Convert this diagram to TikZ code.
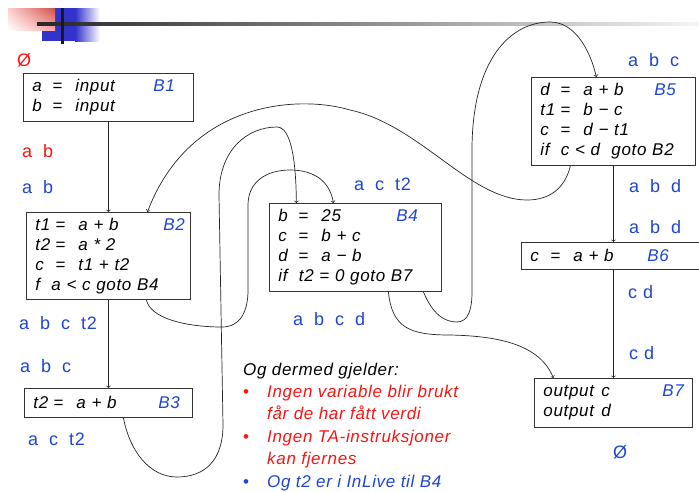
\documentclass[tikz,border=0pt]{standalone}
\usepackage{fontspec}
\setmainfont{Liberation Sans}[LetterSpace=4]
\usepackage{xcolor}
\usetikzlibrary{shadings}
\definecolor{lblue}{RGB}{30,70,210}
\definecolor{lred}{RGB}{250,20,20}
\definecolor{hred}{RGB}{205,80,70}
\definecolor{hblue}{RGB}{50,50,205}
\newcommand{\asg}[2]{\makebox[20pt][l]{#1}\makebox[23pt][l]{=}#2}
\newcommand{\head}[3]{\makebox[#1][l]{#2}\textcolor{lblue}{#3}}
\newcommand{\gap}{\hspace{11pt}}
\newcommand{\blt}{\makebox[24pt][l]{\textup{\textbullet}}}

\begin{document}
\begin{tikzpicture}[x=1pt, y=-1pt,
  font=\fontsize{17pt}{20pt}\selectfont,
  block/.style={draw=black!80, line width=0.8pt, anchor=north west, align=left,
    inner xsep=9pt, inner ysep=0pt, font=\fontsize{17pt}{20pt}\selectfont\itshape},
  live/.style={anchor=base west, inner sep=0pt, text=lblue,
    font=\fontsize{18pt}{20pt}\selectfont},
  flow/.style={->, line width=0.7pt, black!85}]

% Page
\clip (0,0) rectangle (699,491);
\fill[white] (0,0) rectangle (699,491);

% Header
\fill[hblue] (42,8) rectangle (75,41);
\shade[left color=hblue, right color=white] (75,8) rectangle (100,41);
\shade[upper left=red!20, upper right=hred, lower left=white, lower right=red!35]
  (8,8) rectangle (55,30);
\shade[left color=black!85, right color=black!4] (37,22) rectangle (699,25);
\fill[black!90] (61,8) rectangle (63.5,44);

% Blocks
\node[block, text width=152pt, minimum height=48pt] (B1) at (23,73)
  {\head{121pt}{\asg{a}{input}}{B1}\\ \asg{b}{input}};
\node[block, text width=146pt, minimum height=87pt] (B2) at (26,212)
  {\head{128pt}{\asg{t1}{a + b}}{B2}\\ \asg{t2}{a * 2}\\ \asg{c}{t1 + t2}\\ f\ \ a < c goto B4};
\node[block, text width=150pt, minimum height=29pt] (B3) at (24,388)
  {\head{125pt}{\asg{t2}{a + b}}{B3}};
\node[block, text width=154pt, minimum height=88pt] (B4) at (269,203)
  {\head{118pt}{\asg{b}{25}}{B4}\\ \asg{c}{b + c}\\ \asg{d}{a − b}\\ if\ \ t2 = 0 goto B7};
\node[block, text width=146pt, minimum height=88pt] (B5) at (531,77)
  {\head{114pt}{\asg{d}{a + b}}{B5}\\ \asg{t1}{b − c}\\ \asg{c}{d − t1}\\ if\ \ c < d\ \ goto B2};
\node[block, text width=166pt, minimum height=27pt] (B6) at (521,242)
  {\head{117pt}{\asg{c}{a + b}}{B6}};
\node[block, text width=140pt, minimum height=49pt] (B7) at (534,378)
  {\head{119pt}{\makebox[58pt][l]{output}c}{B7}\\ \makebox[58pt][l]{output}d};

% Straight edges
\foreach \a/\b in {B1/B2, B2/B3, B5/B6, B6/B7}
{
  \draw[flow] (\a) -- (\b);
}

% Jumps
\draw[flow] ([xshift=68pt]B4.south) .. controls (433,315) and (445,322) .. (457,322)
  .. controls (468,322) and (472,310) .. (472,292) -- (472,150)
  .. controls (472,60) and (510,22) .. (550,22)
  .. controls (575,22) and (590,50) .. ([xshift=-17pt]B5.north);
\draw[flow] ([xshift=38pt]B2.south) .. controls (150,318) and (185,327) .. (222,327)
  .. controls (240,327) and (248,312) .. (248,290) -- (248,205)
  .. controls (248,182) and (266,170) .. (290,170)
  .. controls (315,170) and (330,182) .. ([xshift=-22pt]B4.north);
\draw[flow] ([xshift=15pt]B3.south) .. controls (130,452) and (150,477) .. (177,477)
  .. controls (205,477) and (223,460) .. (223,425) -- (219,195)
  .. controls (219,150) and (247,127) .. (277,127)
  .. controls (292,127) and (296,165) .. ([xshift=-59pt]B4.north);
\draw[flow] ([xshift=-43pt]B5.south) .. controls (565,188) and (550,200) .. (527,200)
  .. controls (470,200) and (420,125) .. (350,110)
  .. controls (300,95) and (190,100) .. ([xshift=39pt]B2.north);
\draw[flow] ([xshift=33pt]B4.south) .. controls (392,328) and (410,335) .. (450,335)
  .. controls (500,336) and (540,345) .. ([xshift=-60pt]B7.north);

% Live sets
\node[live, text=lred] (Use-0) at (17,66) {Ø};
\node[live, text=lred] (Use-1) at (22,157) {a\gap b};
\foreach \x/\y/\t [count=\i] in {22/193/{a\gap b}, 19/329/{a\gap b\gap c\gap t2},
    20/372/{a\gap b\gap c}, 28/445/{a\gap c\gap t2}, 354/190/{a\gap c\gap t2},
    293/325/{a\gap b\gap c\gap d}, 628/66/{a\gap b\gap c}, 629/192/{a\gap b\gap d},
    629/233/{a\gap b\gap d}, 628/298/{c\hspace{6pt}d}, 629/359/{c\hspace{6pt}d},
    613/458/{Ø}}
{
  \node[live] (Live-\i) at (\x,\y) {\t};
}

% Notes
\node[anchor=north west, align=left, inner sep=0pt,
  font=\fontsize{17pt}{22.4pt}\selectfont\itshape] (notes) at (243,362.6)
  {Og dermed gjelder:\\
   \textcolor{lred}{\blt Ingen variable blir brukt}\\
   \textcolor{lred}{\hspace*{24pt}får de har fått verdi}\\
   \textcolor{lred}{\blt Ingen TA-instruksjoner}\\
   \textcolor{lred}{\hspace*{24pt}kan fjernes}\\
   \textcolor{lblue}{\blt Og t2 er i InLive til B4}};

\end{tikzpicture}
\end{document}
